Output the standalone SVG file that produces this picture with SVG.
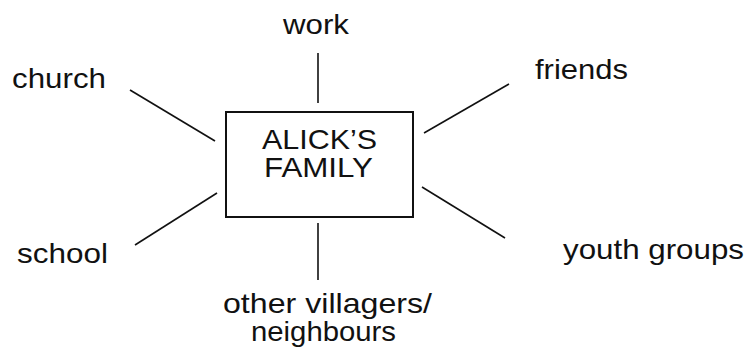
<svg xmlns="http://www.w3.org/2000/svg" width="747" height="349" viewBox="0 0 747 349">
<style>
text{font-family:"Liberation Sans",Arial,sans-serif;font-size:28px;fill:#111}
.ln{stroke:#111;stroke-width:1.6;fill:none}
.box{stroke:#111;stroke-width:2;fill:#fff}
</style>
<rect width="747" height="349" fill="#fff"/>
<g id="connectors">
<line class="ln" x1="318" y1="53" x2="318" y2="103"/>
<line class="ln" x1="130" y1="90" x2="215" y2="141"/>
<line class="ln" x1="509" y1="84" x2="424" y2="133"/>
<line class="ln" x1="217" y1="193" x2="135" y2="245"/>
<line class="ln" x1="422" y1="187" x2="505" y2="238"/>
<line class="ln" x1="318" y1="223" x2="318" y2="280"/>
</g>
<g id="family">
<rect class="box" x="226" y="112" width="187" height="105"/>
<text><tspan x="262" y="149" textLength="115" lengthAdjust="spacingAndGlyphs">ALICK’S</tspan><tspan x="264" y="177" textLength="109" lengthAdjust="spacingAndGlyphs">FAMILY</tspan></text>
</g>
<g id="work"><text x="283" y="34" textLength="66" lengthAdjust="spacingAndGlyphs">work</text></g>
<g id="church"><text x="12" y="88" textLength="94" lengthAdjust="spacingAndGlyphs">church</text></g>
<g id="friends"><text x="535" y="79" textLength="93" lengthAdjust="spacingAndGlyphs">friends</text></g>
<g id="school"><text x="17" y="263" textLength="91" lengthAdjust="spacingAndGlyphs">school</text></g>
<g id="youth"><text x="563" y="259" textLength="181" lengthAdjust="spacingAndGlyphs">youth groups</text></g>
<g id="villagers">
<text><tspan x="223" y="313" textLength="209" lengthAdjust="spacingAndGlyphs">other villagers/</tspan><tspan x="251" y="341" textLength="145" lengthAdjust="spacingAndGlyphs">neighbours</tspan></text>
</g>
</svg>
